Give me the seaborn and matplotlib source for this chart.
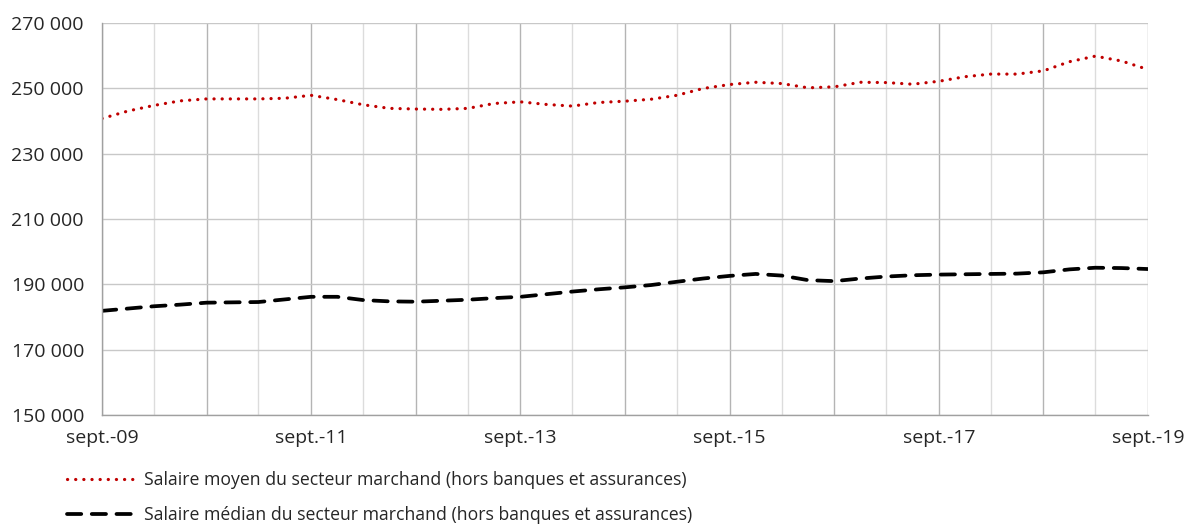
import pandas as pd
import matplotlib.pyplot as plt
import seaborn as sns

# Quarterly values, sept. 2009 -> sept. 2019
dates = pd.date_range('2009-09-01', '2019-09-01', freq='3MS')

salaire_moyen = [240800, 243100, 244800, 246200, 246800, 246800, 246800, 247000,
                 247900, 246600, 245000, 243900, 243700, 243600, 243900, 245400,
                 245900, 245100, 244600, 245700, 246100, 246700, 247900, 250000,
                 251200, 251900, 251500, 250200, 250500, 251900, 251800, 251300,
                 252200, 253600, 254400, 254400, 255400, 258200, 259900, 258400,
                 255800]

salaire_median = [181900, 182600, 183300, 183800, 184400, 184500, 184600, 185400,
                  186200, 186200, 185200, 184800, 184700, 185000, 185300, 185800,
                  186200, 187000, 187800, 188500, 189100, 189800, 190800, 191800,
                  192600, 193200, 192700, 191300, 191000, 191800, 192400, 192800,
                  193000, 193100, 193200, 193300, 193700, 194600, 195100, 195000,
                  194700]

label_moyen = 'Salaire moyen du secteur marchand (hors banques et assurances)'
label_median = 'Salaire médian du secteur marchand (hors banques et assurances)'

df = pd.DataFrame({'date': dates, 'moyen': salaire_moyen, 'median': salaire_median})

sns.set_style('white')
plt.rcParams['font.family'] = ['Open Sans', 'DejaVu Sans']

fig = plt.figure(figsize=(11.92, 5.26), dpi=100)
ax = fig.add_axes([0.0856, 0.211, 0.8775, 0.745])

sns.lineplot(data=df, x='date', y='moyen', ax=ax, color='#c00000', linewidth=2.3,
             label=label_moyen)
sns.lineplot(data=df, x='date', y='median', ax=ax, color='black', linewidth=2.7,
             label=label_median)
ax.lines[0].set_dashes((0.05, 2.5))
ax.lines[0].set_dash_capstyle('round')
ax.lines[1].set_dashes((3.8, 2.8))
ax.lines[1].set_dash_capstyle('round')

# Axes limits and ticks
ax.set_xlim(pd.Timestamp('2009-09-01'), pd.Timestamp('2019-09-01'))
ax.set_ylim(150000, 270000)
ax.set_yticks(range(150000, 270001, 20000))
ax.set_yticklabels([f'{v:,}'.replace(',', ' ') for v in range(150000, 270001, 20000)])

year_ticks = [pd.Timestamp(f'{y}-09-01') for y in range(2009, 2020)]
half_ticks = [pd.Timestamp(f'{y}-03-01') for y in range(2010, 2020)]
ax.set_xticks(year_ticks)
ax.set_xticklabels([f'sept.-{str(y)[2:]}' if (y - 2009) % 2 == 0 else '' for y in range(2009, 2020)])
ax.set_xticks(half_ticks, minor=True)

# Grid
ax.grid(axis='y', color='#c8c8c8', linewidth=1.0)
ax.grid(axis='x', which='major', color='#b4b4b4', linewidth=1.0)
ax.grid(axis='x', which='minor', color='#dcdcdc', linewidth=1.0)
ax.set_axisbelow(True)

for side in ['top', 'right']:
    ax.spines[side].set_visible(False)
for side in ['left', 'bottom']:
    ax.spines[side].set_color('#a0a0a0')
    ax.spines[side].set_linewidth(1.0)

ax.tick_params(axis='x', which='major', direction='out', length=5, color='#a0a0a0',
               labelsize=14, pad=5)
ax.tick_params(axis='x', which='minor', length=0)
ax.tick_params(axis='y', direction='out', length=4, color='#a0a0a0', labelsize=14, pad=9)
ax.set_xlabel('')
ax.set_ylabel('')

ax.legend(loc='upper left', bbox_to_anchor=(0.05, 0.118), bbox_transform=fig.transFigure,
          frameon=False, fontsize=12.7, handlelength=4.0, handletextpad=0.4,
          labelspacing=0.95, borderaxespad=0)

fig.savefig('out.png', dpi=100)
